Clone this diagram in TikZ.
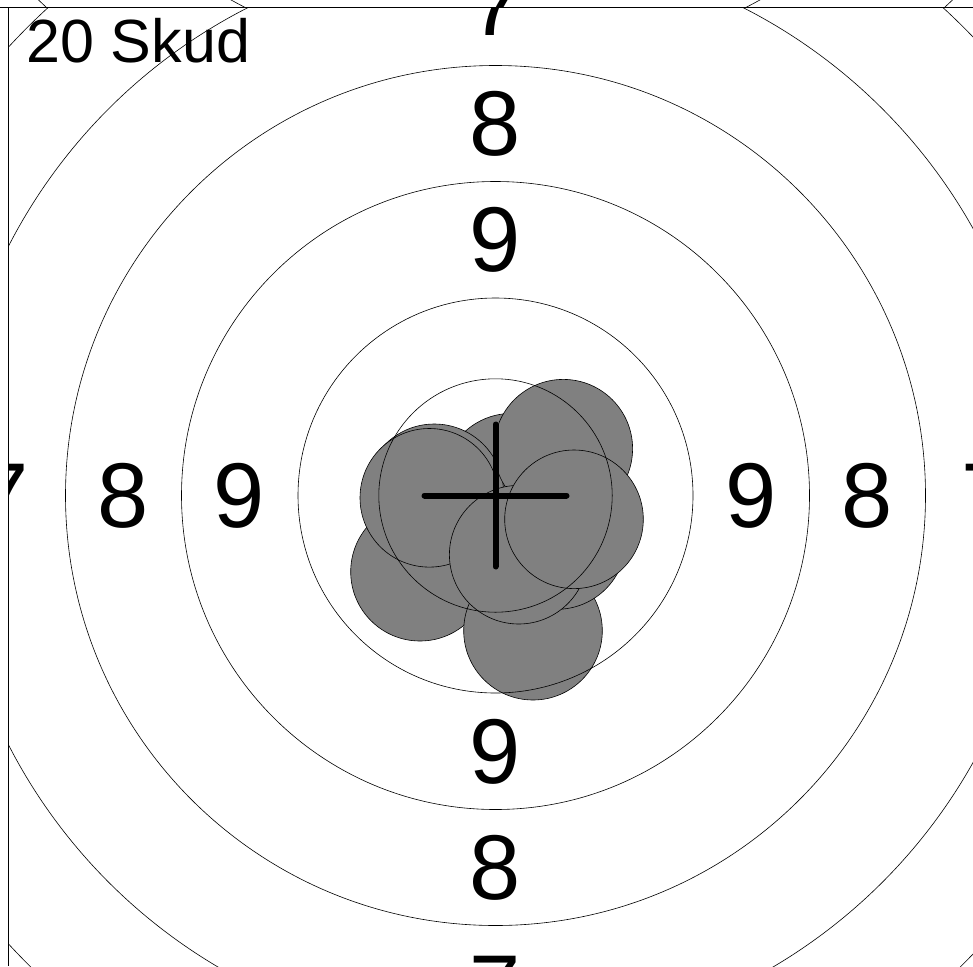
\documentclass[tikz,border=0pt]{standalone}
\usepackage{fontspec}
\setmainfont{Liberation Sans}
\usepackage{xcolor}
\definecolor{shotgray}{HTML}{808080}
\usepackage{tikz}
\usetikzlibrary{calc}

\begin{document}
\begin{tikzpicture}[x=1pt,y=-1pt,
  ring/.style={draw=black,line width=0.6pt},
  shot/.style={draw=black,fill=shotgray,line width=0.6pt},
  ringnum/.style={inner sep=0pt,font=\fontsize{92}{92}\selectfont},
  crossline/.style={draw=black,line width=6pt,line cap=round},
  frameline/.style={draw=black,line width=1pt}]
\useasboundingbox (0,0) rectangle (973,966);
\coordinate (ctr) at (495.5,495.5);
\coordinate (nbr) at (495.5,-479);
% target of the cell above, only its lower edge shows
\begin{scope}
\clip (0,0) rectangle (973,8);
\foreach \r in {547,662} \draw[ring] (nbr) circle[radius=\r pt];
\node[ringnum] (nbrseven) at ($(nbr)+(0,492)$) {7};
\end{scope}
% this target
\begin{scope}
\clip (8,8) rectangle (973,966);
% hits
\foreach \x/\y in {420/571.7, 533/630.7, 556.7/540, 511.7/482.7, 434.3/493.3,
  429.3/497.8, 563.3/448.7, 518.7/554.7, 574/519.3}
  \draw[shot] (\x,\y) circle[radius=69.3pt];
% rings
\foreach \r in {116.7,197.5,314,430,547,662} \draw[ring] (ctr) circle[radius=\r pt];
% ring numbers
\foreach \d/\n in {256/9,372/8,492/7} {
  \node[ringnum] (top\n) at ($(ctr)+(0,-\d)$) {\n};
  \node[ringnum] (bot\n) at ($(ctr)+(0,\d)$) {\n};
  \node[ringnum] (left\n) at ($(ctr)+(-\d,0)$) {\n};
  \node[ringnum] (right\n) at ($(ctr)+(\d,0)$) {\n};
}
\node[anchor=base west,inner sep=0pt,font=\fontsize{61}{61}\selectfont] (title) at (26,63) {20 Skud};
% aiming cross
\draw[crossline] ($(ctr)+(-71,0)$) -- ($(ctr)+(71,0)$);
\draw[crossline] ($(ctr)+(0,-71)$) -- ($(ctr)+(0,71)$);
\end{scope}
% frame
\draw[frameline] (0,8) -- (973,8);
\draw[frameline] (8,8) -- (8,966);
\end{tikzpicture}
\end{document}
